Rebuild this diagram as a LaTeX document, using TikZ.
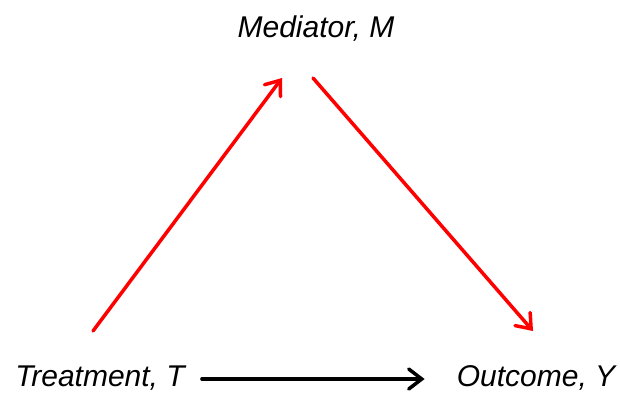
\documentclass[tikz,border=0pt]{standalone}
\usepackage{fontspec}
\setmainfont{Liberation Sans}
\usetikzlibrary{arrows.meta,calc}
\tikzset{
  lbl/.style={inner sep=0pt, anchor=base, font=\itshape\fontsize{30}{35}\selectfont},
  arr/.style={line width=3.5pt, line cap=round, -{Straight Barb[length=13pt,width=20pt,line cap=round]}},
}
\begin{document}
\begin{tikzpicture}[x=1pt,y=-1pt]
\useasboundingbox (0,0) rectangle (620,392);
\node[lbl] (M) at (316,37) {Mediator, M};
\node[lbl] (T) at (100,386) {Treatment, T};
\node[lbl] (Y) at (536,386) {Outcome, Y};

\coordinate (tm) at (93,331);
\coordinate (mt) at (282,78);
\coordinate (my) at (313,78);
\coordinate (ym) at (533,331);
\draw[arr,red] (tm) -- (mt);
\draw[arr,red] (my) -- (ym);
\draw[arr] ($(T.base east)+(17,-7)$) -- ($(Y.base west)+(-32,-7)$);
\end{tikzpicture}
\end{document}
